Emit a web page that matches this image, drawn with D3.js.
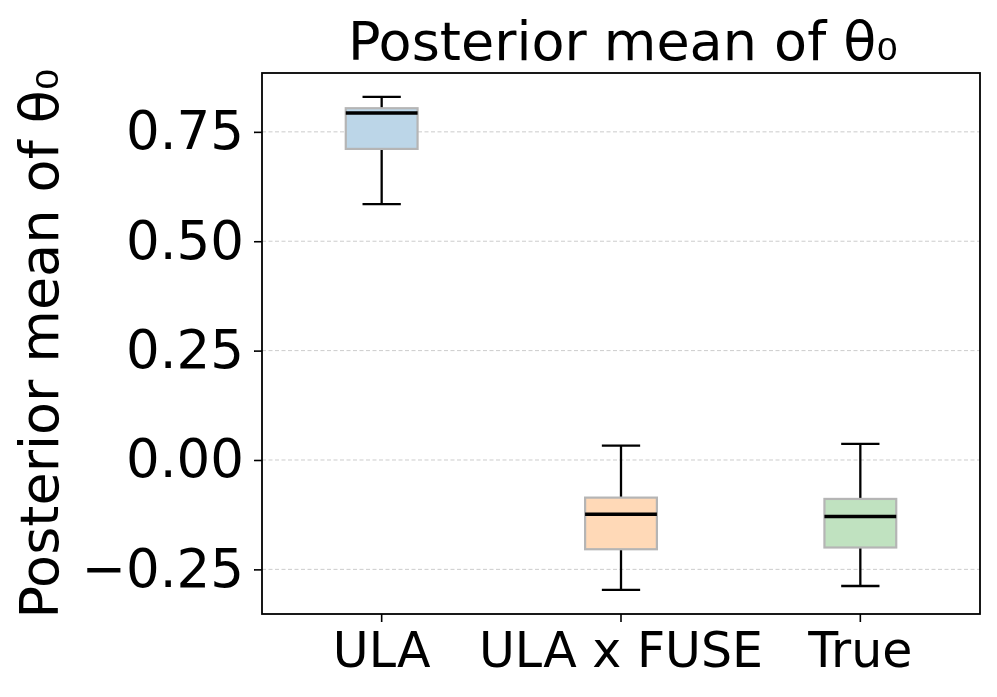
<!DOCTYPE html>
<html>
<head>
<meta charset="utf-8">
<script src="https://cdn.jsdelivr.net/npm/d3@7"></script>
<style>
  body { margin: 0; background: #fff; }
  svg text { font-family: "DejaVu Sans", sans-serif; fill: #000; }
</style>
</head>
<body>
<svg width="997" height="697"></svg>
<script>
// data
var groups = ["ULA", "ULA x FUSE", "True"];
var whiskLow = [0.585, -0.297, -0.288];
var q1 = [0.711, -0.204, -0.200];
var median = [0.793, -0.124, -0.129];
var q3 = [0.804, -0.086, -0.089];
var whiskHigh = [0.830, 0.033, 0.037];
var fills = ["#bcd6e8", "#ffd9b7", "#c0e2c0"];
var yTicks = [-0.25, 0.00, 0.25, 0.50, 0.75];

var svg = d3.select("svg");
var mLeft = 262, mTop = 73, mRight = 980, mBottom = 614;
var width = mRight - mLeft, height = mBottom - mTop;

var x = d3.scaleBand().domain(groups).range([0, width]).padding(0);
var y = d3.scaleLinear().domain([-0.352, 0.8845]).range([height, 0]);

var g = svg.append("g").attr("transform", "translate(" + mLeft + "," + mTop + ")");

// grid
g.selectAll(".grid").data(yTicks).enter().append("line")
    .attr("x1", 0).attr("x2", width)
    .attr("y1", d => y(d)).attr("y2", d => y(d))
    .attr("stroke", "#cccccc").attr("stroke-width", 1)
    .attr("stroke-dasharray", "4,2.5");

var boxW = x.bandwidth() * 0.3, capW = x.bandwidth() * 0.16;

var box = g.selectAll(".box").data(groups).enter().append("g")
    .attr("transform", d => "translate(" + (x(d) + x.bandwidth() / 2) + ",0)");

// whiskers
var wsw = 2.3;
box.append("line").attr("x1", 0).attr("x2", 0)
    .attr("y1", (d, i) => y(q3[i])).attr("y2", (d, i) => y(whiskHigh[i]))
    .attr("stroke", "#000").attr("stroke-width", wsw);
box.append("line").attr("x1", 0).attr("x2", 0)
    .attr("y1", (d, i) => y(q1[i])).attr("y2", (d, i) => y(whiskLow[i]))
    .attr("stroke", "#000").attr("stroke-width", wsw);
box.append("line").attr("x1", -capW / 2).attr("x2", capW / 2)
    .attr("y1", (d, i) => y(whiskHigh[i])).attr("y2", (d, i) => y(whiskHigh[i]))
    .attr("stroke", "#000").attr("stroke-width", wsw);
box.append("line").attr("x1", -capW / 2).attr("x2", capW / 2)
    .attr("y1", (d, i) => y(whiskLow[i])).attr("y2", (d, i) => y(whiskLow[i]))
    .attr("stroke", "#000").attr("stroke-width", wsw);

// boxes
box.append("rect")
    .attr("x", -boxW / 2).attr("width", boxW)
    .attr("y", (d, i) => y(q3[i]))
    .attr("height", (d, i) => y(q1[i]) - y(q3[i]))
    .attr("fill", (d, i) => fills[i])
    .attr("stroke", "#b5b5b5").attr("stroke-width", 2.2);

// medians
box.append("line").attr("x1", -boxW / 2).attr("x2", boxW / 2)
    .attr("y1", (d, i) => y(median[i])).attr("y2", (d, i) => y(median[i]))
    .attr("stroke", "#000").attr("stroke-width", 3.6);

// axes
var yAxis = g.append("g").call(d3.axisLeft(y).tickValues(yTicks).tickSize(8).tickPadding(10)
    .tickFormat(d => d3.format(".2f")(d).replace("-", "\u2212")));
var xAxis = g.append("g").attr("transform", "translate(0," + height + ")")
    .call(d3.axisBottom(x).tickSize(8).tickPadding(10));
[yAxis, xAxis].forEach(a => {
    a.select(".domain").remove();
    a.selectAll("line").attr("stroke", "#000").attr("stroke-width", 1.6);
    a.selectAll("text").style("font-family", "DejaVu Sans").attr("fill", "#000");
});
yAxis.selectAll("text").style("font-size", "53px");
xAxis.selectAll("text").style("font-size", "49px");

g.append("rect").attr("width", width).attr("height", height)
    .attr("fill", "none").attr("stroke", "#000").attr("stroke-width", 1.8);

svg.append("text").attr("x", mLeft + width / 2 + 2).attr("y", 60)
    .attr("text-anchor", "middle").style("font-size", "54px")
    .text("Posterior mean of \u03b8\u2080");

svg.append("text")
    .attr("transform", "translate(58," + (mTop + height / 2) + ") rotate(-90)")
    .attr("text-anchor", "middle").style("font-size", "54px")
    .text("Posterior mean of \u03b8\u2080");
</script>
</body>
</html>
